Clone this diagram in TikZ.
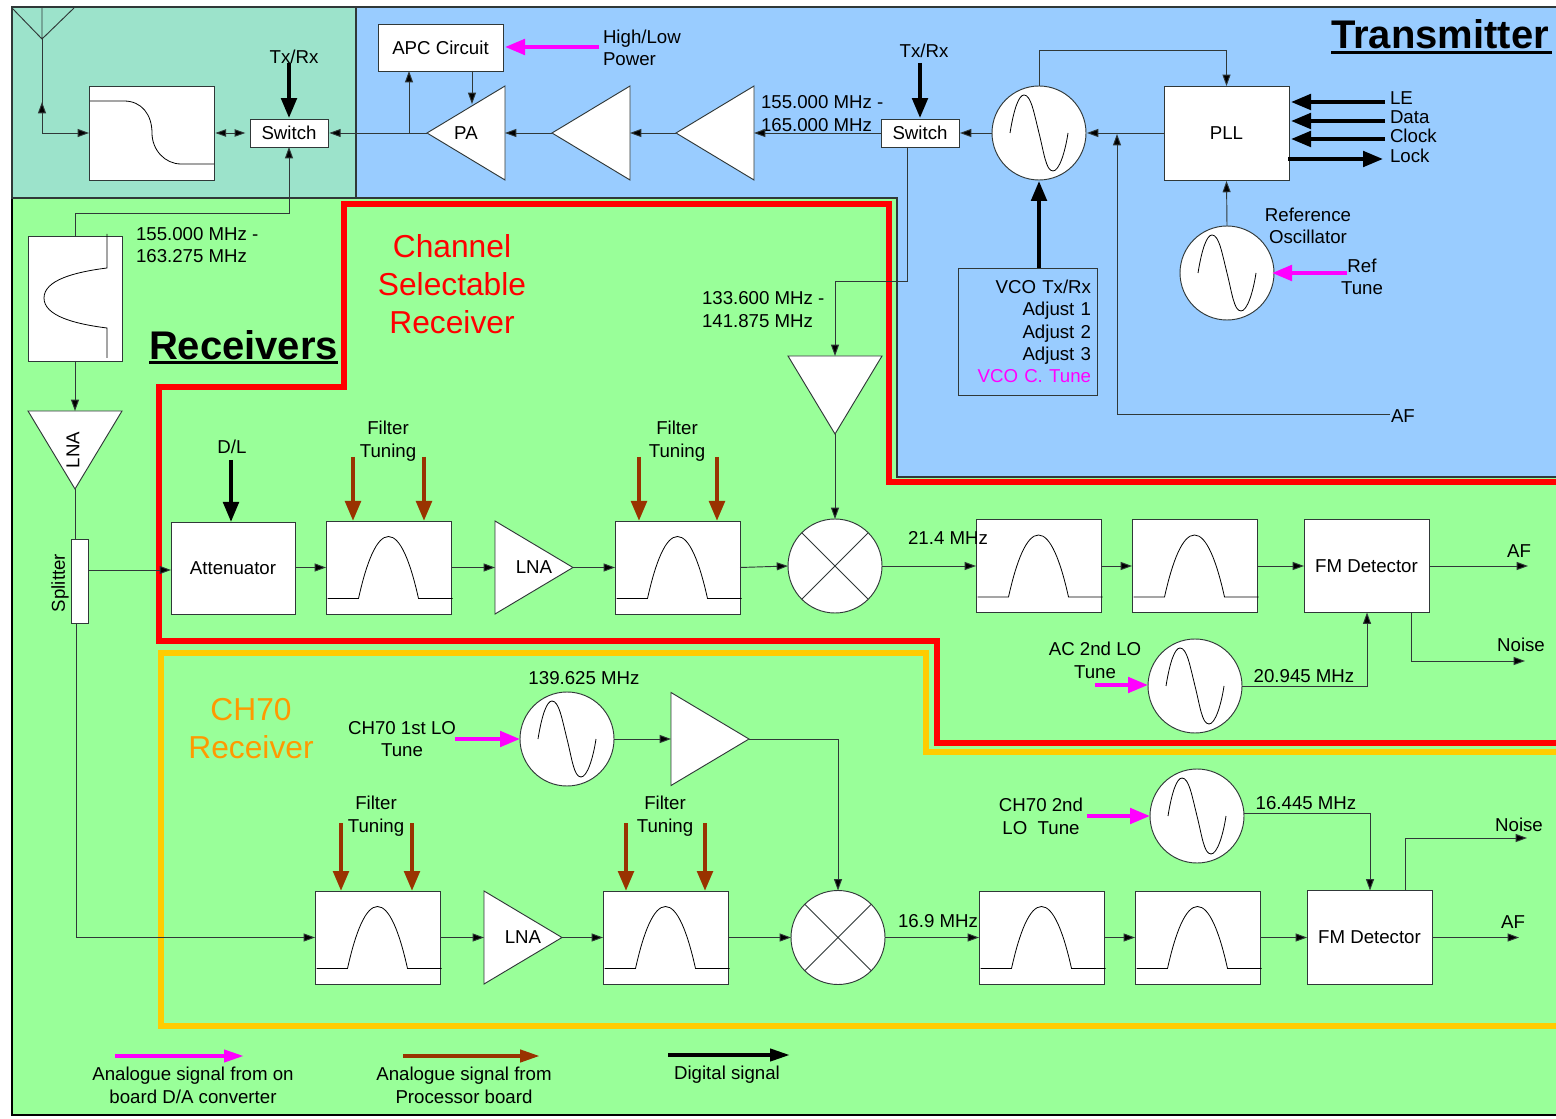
\documentclass[tikz,border=0pt]{standalone}
\usepackage{fontspec}
\setmainfont{Liberation Sans}
\usetikzlibrary{arrows.meta,shapes.geometric,calc}
\definecolor{bggreen}{HTML}{99FF99}
\definecolor{bgblue}{HTML}{99CCFF}
\definecolor{bghatch}{HTML}{9CE3CB}
\definecolor{edge}{HTML}{303838}
\definecolor{sigbrown}{HTML}{993300}
\definecolor{redline}{HTML}{FF0000}
\definecolor{goldline}{HTML}{FFCC00}
\definecolor{orangetxt}{HTML}{FF9900}
\definecolor{magsig}{HTML}{FF00FF}
\tikzset{
  wire/.style={draw=edge,line width=0.7pt},
  arr/.style={wire,-{Triangle[length=8.5pt,width=6pt,fill=black]}},
  dig/.style={draw=black,line width=3pt,-{Triangle[length=15pt,width=11.5pt]}},
  ana/.style={draw=magsig,line width=3pt,-{Triangle[length=15pt,width=11.5pt]}},
  brn/.style={draw=sigbrown,line width=3.2pt,-{Triangle[length=15pt,width=11.5pt]}},
  box/.style 2 args={rectangle,draw=edge,line width=0.7pt,fill=white,inner sep=0pt,outer sep=0pt,
    minimum width=#1*0.75pt,minimum height=#2*0.75pt,font=\fontsize{14}{17}\selectfont},
  oscnode/.style={circle,draw=edge,line width=0.7pt,fill=white,inner sep=0pt,outer sep=0pt,minimum size=94*0.75pt},
  tri/.style 2 args={isosceles triangle,isosceles triangle stretches,draw=edge,line width=0.7pt,fill=white,
    inner sep=0pt,outer sep=0pt,minimum width=#1*0.75pt,minimum height=#2*0.75pt},
  lbl/.style={inner sep=0pt,outer sep=0pt,align=center,text=black,font=\fontsize{14}{17}\selectfont},
  big/.style={inner sep=0pt,outer sep=0pt,align=center,font=\fontsize{23.8}{28.5}\selectfont},
  head/.style={inner sep=0pt,outer sep=0pt,font=\fontsize{30}{36}\selectfont\bfseries},
  trace/.style={draw=black,line width=0.6pt},
  thickred/.style={draw=redline,line width=3.9pt,miter limit=10},
  thickgold/.style={draw=goldline,line width=3.9pt}
}
\newcommand\bpbox[3]{%
  \node[box={125}{93}] (#1) at (#2,#3) {};
  \draw[trace] (#2-61,#3+31) -- (#2-30,#3+31)
    .. controls (#2-22,#3-5) and (#2-12,#3-31) .. (#2,#3-31)
    .. controls (#2+12,#3-31) and (#2+22,#3-5) .. (#2+30,#3+31) -- (#2+64,#3+31);
}
\newcommand\oscbox[3]{%
  \node[oscnode] (#1) at (#2,#3) {};
  \draw[trace] (#2-29,#3) .. controls (#2-25,#3-25) and (#2-20,#3-38) .. (#2-15,#3-38)
    .. controls (#2-8,#3-38) and (#2-5,#3-20) .. (#2,#3)
    .. controls (#2+5,#3+20) and (#2+7,#3+38) .. (#2+14,#3+38)
    .. controls (#2+20,#3+38) and (#2+26,#3+20) .. (#2+29,#3);
}
\newcommand\mixbox[3]{%
  \node[oscnode] (#1) at (#2,#3) {};
  \draw[wire] (#1.north west) -- (#1.south east) (#1.north east) -- (#1.south west);
}
\begin{document}
\begin{tikzpicture}[x=0.75pt,y=-0.75pt]
\useasboundingbox (0,0) rectangle (1556,1119);
\fill[white] (0,0) rectangle (1556,1119);
% backgrounds
\draw[draw=black,line width=0.8pt,fill=bggreen] (12,7) rectangle (1560,1115);
\draw[draw=edge,line width=0.8pt,fill=bgblue] (12,7) -- (1560,7) -- (1560,477) -- (897,477) -- (897,198) -- (12,198) -- cycle;
\draw[draw=edge,line width=0.8pt,fill=bghatch] (12,7) rectangle (356,198);
% region outlines
\draw[thickred] (1560,482) -- (889,482) -- (889,204) -- (344,204) -- (344,387) -- (159,387) -- (159,641) -- (937,641) -- (937,743) -- (1560,743);
\draw[thickgold] (1560,752) -- (926,752) -- (926,653) -- (161,653) -- (161,1026) -- (1560,1026);
% headings
\node[head,anchor=base west] (txhead) at (1331,49) {Transmitter};
\draw[line width=2.4pt] ([yshift=-2.6pt]txhead.base west) -- ([yshift=-2.6pt,xshift=2pt]txhead.base east);
\node[head,anchor=base west] (rxhead) at (149,359.5) {Receivers};
\draw[line width=2.4pt] ([yshift=-2.2pt]rxhead.base west) -- ([yshift=-2.2pt]rxhead.base east);
\node[big,text=redline] (chsel) at (452,284) {Channel\\Selectable\\Receiver};
\node[big,text=orangetxt] (ch70) at (251,729) {CH70\\Receiver};
% top row
\coordinate (antl) at (12,8); \coordinate (antr) at (74,8); \coordinate (antt) at (42,8); \coordinate (antb) at (42,39);
\draw[wire] (antl) -- (antb) -- (antr) (antt) -- (antb);
\node[box={125}{94}] (diplex) at (151.5,133) {};
\draw[trace] (90,101) -- (124,101) .. controls (142,101) and (152,115) .. (152,133)
  .. controls (152,150) and (165,164) .. (181,164) -- (214,164);
\node[box={78}{28}] (sw1) at (289,133) {Switch};
\node[box={125}{47}] (apc) at (440.5,47.5) {APC Circuit};
\node[tri={94}{78},shape border rotate=180,anchor=apex] (pa) at (427,133) {};
\node[lbl] (patxt) at (466,133) {PA};
\node[tri={94}{78},shape border rotate=180,anchor=apex] (amp2) at (552,133) {};
\node[tri={94}{78},shape border rotate=180,anchor=apex] (amp3) at (676,133) {};
\node[box={78}{28}] (sw2) at (920,133) {Switch};
\oscbox{vco}{1039}{133}
\node[box={125}{94}] (pll) at (1226.5,133) {PLL};
\oscbox{ref}{1227}{273}
\node[box={139}{127},fill=none,align=right,text width=127*0.75pt,font=\fontsize{14}{16.8}\selectfont] (vcobox) at (1027.5,331.5)
  {VCO Tx/Rx\\Adjust 1\\Adjust 2\\Adjust 3\\\textcolor{magsig}{VCO C. Tune}};
\node[lbl] (txrx1) at (294,57) {Tx/Rx};
\node[lbl] (txrx2) at (924,51) {Tx/Rx};
\node[lbl,align=left,anchor=west] (hilo) at (603,48) {High/Low\\Power};
\node[lbl,align=left,anchor=west] (freq1) at (761,113.5) {155.000 MHz -\\165.000 MHz};
\node[lbl,anchor=west] (le) at (1390,98) {LE};
\node[lbl,anchor=west] (data) at (1390,117) {Data};
\node[lbl,anchor=west] (clock) at (1390,136) {Clock};
\node[lbl,anchor=west] (lock) at (1390,156) {Lock};
\node[lbl] (refosc) at (1308,226) {Reference\\Oscillator};
\node[lbl] (reftune) at (1362,277) {Ref\\Tune};
\node[lbl,anchor=west] (aftx) at (1391,416) {AF};
% top row connectors
\coordinate (ant1) at (42,133);
\draw[wire] (antb) -- (ant1);
\draw[arr] (ant1) -- (42,102);
\draw[arr] (ant1) -- (diplex.west);
\draw[wire,{Triangle[length=8pt,width=5.5pt,fill=black]}-{Triangle[length=8pt,width=5.5pt,fill=black]}] ([xshift=1pt]diplex.east) -- ([xshift=-3.5pt]sw1.west);
\coordinate (tap1) at (409,133);
\draw[arr] (pa.apex) -- ([xshift=1pt]sw1.east);
\draw[arr] (tap1) -- (tap1 |- apc.south);
\coordinate (apcdn) at (472,71);
\draw[arr] (apcdn) -- (472,104);
\draw[arr] (amp2.apex) -- (pa.lower side);
\draw[arr] (amp3.apex) -- (amp2.lower side);
\draw[arr] (sw2.west) -- (amp3.lower side);
\draw[arr] (vco.west) -- ([xshift=0.7pt]sw2.east);
\draw[arr] (pll.west) -- ([xshift=0.7pt]vco.east);
\draw[arr] (vco.north) -- (1039,50) -| (pll.north);
\coordinate (afe) at (1390,414);
\draw[arr] (afe) -- (1117,414) -- (1117,134);
\draw[arr] (ref.north) -- ([yshift=-0.7pt]pll.south);
% thick signals top
\coordinate (leE) at (1385,102); \coordinate (dataE) at (1385,121); \coordinate (clkE) at (1385,139); \coordinate (lockS) at (1288,159); \coordinate (lockE) at (1383,159);
\draw[dig] (leE) -- (1291,102);
\draw[dig] (dataE) -- (1291,121);
\draw[dig] (clkE) -- (1291,139);
\draw[dig] (lockS) -- (lockE);
\coordinate (tx1s) at (289,63); \coordinate (tx2s) at (920,63);
\draw[dig] (tx1s) -- ([yshift=0.7pt]sw1.north);
\draw[dig] (tx2s) -- ([yshift=0.7pt]sw2.north);
\draw[dig] (vco.south |- vcobox.north) -- ([yshift=-0.7pt]vco.south);
\coordinate (hiE) at (599,47);
\draw[ana] (hiE) -- (505,47);
\coordinate (refE) at (1347,273);
\draw[ana] (refE) -- ([xshift=-1.5pt]ref.east);
% left column
\node[box={94}{125}] (bp0) at (75,298.5) {};
\draw[trace] (107,234) -- (107,268) .. controls (75,272) and (44,280) .. (44,298) .. controls (44,316) and (75,324) .. (107,328) -- (107,358);
\node[lbl,align=left,anchor=west] (freq0b) at (136,245) {155.000 MHz -\\163.275 MHz};
\node[tri={94}{78},shape border rotate=270,anchor=apex] (lna0) at (75,489) {};
\node[lbl,rotate=90] (lna0t) at (73,450) {LNA};
\node[box={17}{84}] (split) at (79.5,581) {};
\node[lbl,rotate=90] (splitt) at (60,583) {Splitter};
\draw[arr] (bp0.south) -- (lna0.lower side);
\draw[wire] (lna0.apex) -- (split.north -| 75,0);
\draw[arr] (bp0.north) -- (75,213) -| (sw1.south);
% selectable receiver
\node[box={124}{92}] (att) at (233,568) {Attenuator};
\bpbox{f1}{388.5}{567.5}
\node[tri={93}{78},anchor=apex] (lna1) at (573,567.5) {};
\node[lbl] (lna1t) at (534,567) {LNA};
\bpbox{f2}{677.5}{567.5}
\mixbox{mx1}{835}{566}
\bpbox{f3}{1038.5}{566}
\bpbox{f4}{1194.5}{566}
\node[box={125}{93}] (fm1) at (1366.5,566) {FM Detector};
\node[tri={94}{78},shape border rotate=270,anchor=apex] (am1) at (835,434) {};
\oscbox{lo2}{1195}{686}
\node[lbl] (dl) at (232,447) {D/L};
\node[lbl] (ft1) at (388,441) {Filter\\Tuning};
\node[lbl] (ft2) at (677,441) {Filter\\Tuning};
\node[lbl,align=left,anchor=west] (f133) at (702,309.5) {133.600 MHz -\\141.875 MHz};
\node[lbl] (f214) at (948,538) {21.4 MHz};
\node[lbl] (af1) at (1519,551) {AF};
\node[lbl] (noise1) at (1521,645) {Noise};
\node[lbl] (aclo) at (1095,660.5) {AC 2nd LO\\Tune};
\node[lbl] (f209) at (1304,676) {20.945 MHz};
\draw[arr] (split.east |- 0,570) -- (att.west |- 0,570);
\draw[arr] (att.east |- f1.west) -- (f1.west);
\draw[arr] (f1.east) -- (lna1.lower side);
\draw[arr] (lna1.apex) -- (f2.west);
\draw[arr] (f2.east) -- (mx1.west);
\draw[arr] (mx1.east) -- (f3.west);
\draw[arr] (f3.east) -- (f4.west);
\draw[arr] (f4.east) -- (fm1.west);
\coordinate (af1e) at (1528,566); \coordinate (n1e) at (1525,661); \coordinate (n1s) at (1411,612);
\draw[arr] (fm1.east) -- (af1e);
\draw[arr] (n1s) -- (1411,661) -- (n1e);
\draw[arr] (lo2.east) -- (1367,686) -- (fm1.south -| 1367,0);
\coordinate (sw2d) at (907,147);
\draw[arr] (sw2d) -- (907,281) -| (am1.lower side);
\draw[arr] (am1.apex) -- (mx1.north);
\coordinate (dls) at (231,460);
\draw[dig] (dls) -- (dls |- att.north);
\coordinate (b1) at (353,457); \coordinate (b2) at (424,457); \coordinate (b3) at (639,457); \coordinate (b4) at (717,457);
\draw[brn] (b1) -- (b1 |- f1.north);
\draw[brn] (b2) -- (b2 |- f1.north);
\draw[brn] (b3) -- (b3 |- f2.north);
\draw[brn] (b4) -- (b4 |- f2.north);
\coordinate (aclos) at (1095,685);
\draw[ana] (aclos) -- (lo2.west |- aclos);
% CH70 receiver
\oscbox{lo1c}{567}{739}
\node[tri={93}{78},anchor=apex] (ampc) at (749,739) {};
\bpbox{fa}{377.5}{937.5}
\node[tri={93}{78},anchor=apex] (lnac) at (562,937.5) {};
\node[lbl] (lnact) at (523,937) {LNA};
\bpbox{fb}{665.5}{937.5}
\mixbox{mx2}{838}{937.5}
\bpbox{fc}{1041.5}{937.5}
\bpbox{fd}{1197.5}{937.5}
\node[box={125}{94}] (fm2) at (1369.5,937.5) {FM Detector};
\oscbox{lo2c}{1197}{816}
\node[lbl] (f139) at (584,678) {139.625 MHz};
\node[lbl] (ch1lo) at (402,739) {CH70 1st LO\\Tune};
\node[lbl] (ft3) at (376,816) {Filter\\Tuning};
\node[lbl] (ft4) at (665,816) {Filter\\Tuning};
\node[lbl] (f169) at (938,921) {16.9 MHz};
\node[lbl] (ch2lo) at (1041,816.5) {CH70 2nd\\LO\ \ Tune};
\node[lbl] (f164) at (1306,803) {16.445 MHz};
\node[lbl] (noise2) at (1519,825) {Noise};
\node[lbl] (af2) at (1513,922) {AF};
\coordinate (ch1s) at (455,739);
\draw[ana] (ch1s) -- (lo1c.west);
\coordinate (ch2s) at (1087,816);
\draw[ana] (ch2s) -- (lo2c.west);
\draw[arr] (lo1c.east) -- (ampc.lower side);
\draw[arr] (ampc.apex) -- (838,739) -- (mx2.north);
\draw[arr] (split.south -| 76,0) -- (76,937.5) -- (fa.west);
\draw[arr] (fa.east) -- (lnac.lower side);
\draw[arr] (lnac.apex) -- (fb.west);
\draw[arr] (fb.east) -- (mx2.west);
\draw[arr] (mx2.east) -- (fc.west);
\draw[arr] (fc.east) -- (fd.west);
\draw[arr] (fd.east) -- (fm2.west);
\coordinate (af2e) at (1519,937.5); \coordinate (n2s) at (1405,890); \coordinate (n2e) at (1527,838);
\draw[arr] (fm2.east) -- (af2e);
\draw[arr] (n2s) -- (1405,838) -- (n2e);
\coordinate (lo2o) at (1244,813);
\draw[arr] (lo2o) -- (1370,813) -- (fm2.north -| 1370,0);
\coordinate (b5) at (341,823); \coordinate (b6) at (412,823); \coordinate (b7) at (626,823); \coordinate (b8) at (705,823);
\draw[brn] (b5) -- (b5 |- fa.north);
\draw[brn] (b6) -- (b6 |- fa.north);
\draw[brn] (b7) -- (b7 |- fb.north);
\draw[brn] (b8) -- (b8 |- fb.north);
% legend
\coordinate (lg1a) at (115,1056); \coordinate (lg1b) at (244,1056);
\coordinate (lg2a) at (403,1056); \coordinate (lg2b) at (540,1056);
\coordinate (lg3a) at (668,1055); \coordinate (lg3b) at (790,1055);
\draw[ana,-{Triangle[length=15pt,width=9pt]}] (lg1a) -- (lg1b);
\draw[brn,-{Triangle[length=15pt,width=9pt]}] (lg2a) -- (lg2b);
\draw[dig,-{Triangle[length=15pt,width=9pt]}] (lg3a) -- (lg3b);
\node[lbl] (lgt1) at (193,1085.5) {Analogue signal from on\\board D/A converter};
\node[lbl] (lgt2) at (464,1085) {Analogue signal from\\Processor board};
\node[lbl] (lgt3) at (727,1075) {Digital signal};
\end{tikzpicture}
\end{document}
